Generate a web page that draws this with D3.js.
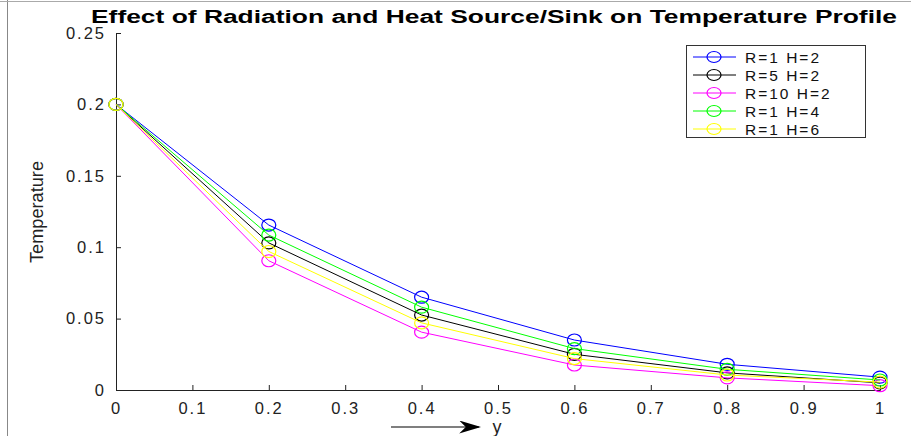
<!DOCTYPE html>
<html>
<head>
<meta charset="utf-8">
<script src="https://cdn.jsdelivr.net/npm/d3@7"></script>
<style>
  body { margin: 0; background: #fff; }
  text { font-family: "Liberation Sans", Arial, sans-serif; }
</style>
</head>
<body>
<svg id="chart" width="911" height="436"></svg>
<script>
var xs = [0, 0.2, 0.4, 0.6, 0.8, 1];
var seriesNames = ["R=1 H=2", "R=5 H=2", "R=10 H=2", "R=1 H=4", "R=1 H=6"];
var seriesColors = ["#0000ff", "#000000", "#ff00ff", "#00ff00", "#ffff00"];
var r1h2 = [0.2, 0.1155, 0.065, 0.035, 0.018, 0.0090];
var r5h2 = [0.2, 0.1030, 0.0525, 0.025, 0.012, 0.0050];
var r10h2 = [0.2, 0.0905, 0.0405, 0.0175, 0.0085, 0.0030];
var r1h4 = [0.2, 0.1085, 0.058, 0.029, 0.0145, 0.0070];
var r1h6 = [0.2, 0.0970, 0.0470, 0.0220, 0.0105, 0.0055];
var xTicks = [0, 0.1, 0.2, 0.3, 0.4, 0.5, 0.6, 0.7, 0.8, 0.9, 1];
var yTicks = [0, 0.05, 0.1, 0.15, 0.2, 0.25];

var allSeries = [r1h2, r5h2, r10h2, r1h4, r1h6];

var svg = d3.select("#chart"),
  margin = {top: 33, right: 31, bottom: 46, left: 116},
  width = +svg.attr("width") - margin.left - margin.right,
  height = +svg.attr("height") - margin.top - margin.bottom;

// outer frame
svg.append("line").attr("x1", 7.5).attr("x2", 7.5).attr("y1", 0).attr("y2", 436)
  .attr("stroke", "#888").attr("stroke-width", 1);
svg.append("line").attr("x1", 0).attr("x2", 911).attr("y1", 1.5).attr("y2", 1.5)
  .attr("stroke", "#aaa").attr("stroke-width", 1);

var g = svg.append("g").attr("transform", "translate(" + margin.left + "," + margin.top + ")");

var x = d3.scaleLinear().domain([0, 1]).range([0, width]);
var y = d3.scaleLinear().domain([0, 0.25]).range([height, 0]);

// x axis, ticks pointing inward
var xAxis = g.append("g")
  .attr("transform", "translate(0," + height + ")")
  .call(d3.axisBottom(x).tickValues(xTicks).tickSize(-5).tickPadding(12)
    .tickFormat(function (d) { return d3.format("")(+d.toFixed(2)); }));
xAxis.select(".domain").attr("stroke", "#222");
xAxis.selectAll(".tick line").attr("stroke", "#222");
xAxis.selectAll("text").attr("font-size", 16.5).attr("fill", "#222")
  .attr("letter-spacing", "2px").attr("font-family", "Liberation Sans, Arial, sans-serif");

var yAxis = g.append("g")
  .call(d3.axisLeft(y).tickValues(yTicks).tickSize(-5).tickPadding(10)
    .tickFormat(function (d) { return d3.format("")(+d.toFixed(2)); }));
yAxis.select(".domain").attr("stroke", "#222");
yAxis.selectAll(".tick line").attr("stroke", "#222");
yAxis.selectAll("text").attr("font-size", 16.5).attr("fill", "#222")
  .attr("letter-spacing", "2px").attr("font-family", "Liberation Sans, Arial, sans-serif");

var line = d3.line()
  .x(function (d, i) { return x(xs[i]); })
  .y(function (d) { return y(d); });

allSeries.forEach(function (s, k) {
  g.append("path")
    .datum(s)
    .attr("fill", "none")
    .attr("stroke", seriesColors[k])
    .attr("stroke-width", 1)
    .attr("d", line);
  g.selectAll(".pt" + k)
    .data(s)
    .enter().append("ellipse")
    .attr("class", "pt" + k)
    .attr("cx", function (d, i) { return x(xs[i]); })
    .attr("cy", function (d) { return y(d); })
    .attr("rx", 7)
    .attr("ry", 6)
    .attr("fill", "none")
    .attr("stroke", seriesColors[k])
    .attr("stroke-width", 1.2);
});

// title
svg.append("text")
  .attr("x", 494)
  .attr("y", 23)
  .attr("text-anchor", "middle")
  .attr("font-size", 18)
  .attr("font-weight", "bold")
  .attr("textLength", 806)
  .attr("lengthAdjust", "spacingAndGlyphs")
  .text("Effect of Radiation and Heat Source/Sink on Temperature Profile");

// y label
svg.append("text")
  .attr("transform", "translate(43,212) rotate(-90)")
  .attr("text-anchor", "middle")
  .attr("font-size", 18)
  .attr("textLength", 102)
  .attr("lengthAdjust", "spacingAndGlyphs")
  .attr("fill", "#222")
  .text("Temperature");

// x label with arrow
svg.append("defs").append("marker")
  .attr("id", "arrow")
  .attr("viewBox", "0 0 10 10")
  .attr("refX", 9).attr("refY", 5)
  .attr("markerWidth", 22).attr("markerHeight", 13)
  .attr("markerUnits", "userSpaceOnUse")
  .attr("orient", "auto")
  .attr("preserveAspectRatio", "none")
  .append("path").attr("d", "M0,0 L10,5 L0,10 L3,5 z").attr("fill", "#000");
svg.append("line")
  .attr("x1", 391).attr("x2", 479).attr("y1", 427).attr("y2", 427)
  .attr("stroke", "#000").attr("stroke-width", 1.2)
  .attr("marker-end", "url(#arrow)");
svg.append("text")
  .attr("x", 497).attr("y", 433)
  .attr("text-anchor", "middle")
  .attr("font-size", 18)
  .attr("fill", "#222")
  .text("y");

// legend
var lg = svg.append("g").attr("transform", "translate(686,45)");
lg.append("rect").attr("x", 0.5).attr("y", 0.5).attr("width", 179).attr("height", 92)
  .attr("fill", "#fff").attr("stroke", "#333").attr("stroke-width", 1);
seriesNames.forEach(function (name, k) {
  var yy = 12 + k * 18;
  lg.append("line").attr("x1", 7).attr("x2", 50).attr("y1", yy).attr("y2", yy)
    .attr("stroke", seriesColors[k]).attr("stroke-width", 1);
  lg.append("ellipse").attr("cx", 28).attr("cy", yy).attr("rx", 7).attr("ry", 5.5)
    .attr("fill", "none").attr("stroke", seriesColors[k]).attr("stroke-width", 1.2);
  lg.append("text").attr("x", 59).attr("y", yy + 5.5)
    .attr("font-size", 15.5).attr("letter-spacing", "2px").attr("fill", "#111")
    .text(name);
});
</script>
</body>
</html>
